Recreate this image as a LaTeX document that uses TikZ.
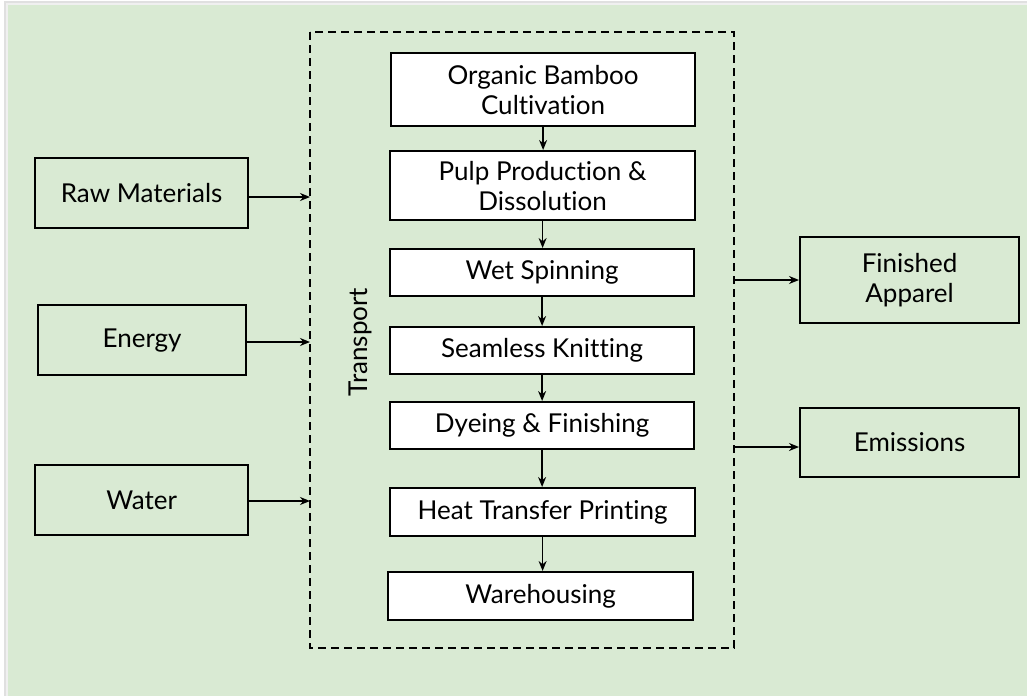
\documentclass[tikz,border=0pt]{standalone}
\usepackage{fontspec}
\setmainfont{Lato}[Ligatures={NoCommon}]
\usetikzlibrary{arrows.meta}
\definecolor{bggreen}{HTML}{D9EAD3}
\begin{document}
\begin{tikzpicture}[x=1pt,y=-1pt,
  font=\fontsize{26}{30}\selectfont,
  boxbase/.style={draw=black,line width=2.2pt,inner sep=0pt,align=center,anchor=north west},
  sidebox/.style={boxbase},
  procbox/.style={boxbase,fill=white},
  flow/.style={line width=1.6pt,-{Stealth[length=10pt,width=8pt]}},
  frame/.style={draw=black,line width=2pt,dash pattern=on 8pt off 5pt}]
\useasboundingbox (0,0) rectangle (1027,696);
\fill[white] (0,0) rectangle (1027,696);
\fill[black!12] (4,1) rectangle (1027,696);
\fill[black!6] (6,3) rectangle (1027,696);
\fill[bggreen] (8,5) rectangle (1027,696);
% dashed frame
\draw[frame] (310,32) rectangle (734,648);
\coordinate (fl1) at (310,197);
\coordinate (fl2) at (310,342);
\coordinate (fl3) at (310,501);
\coordinate (fr1) at (734,280);
\coordinate (fr2) at (734,447);
% left inputs
\node[sidebox,minimum width=213pt,minimum height=70pt] (raw) at (34,157) {Raw Materials};
\node[sidebox,minimum width=208pt,minimum height=70pt] (energy) at (37,304) {Energy};
\node[sidebox,minimum width=213pt,minimum height=70pt] (water) at (34,464) {Water};
% right outputs
\node[sidebox,minimum width=219pt,minimum height=86pt] (apparel) at (799,236) {Finished\\Apparel};
\node[sidebox,minimum width=219pt,minimum height=69pt] (emis) at (799,407) {Emissions};
% process chain
\node[procbox,minimum width=304pt,minimum height=73pt] (p1) at (390,52) {Organic Bamboo\\Cultivation};
\node[procbox,minimum width=305pt,minimum height=69pt] (p2) at (389,150) {Pulp Production \&\\Dissolution};
\node[procbox,minimum width=304pt,minimum height=47pt] (p3) at (389,248) {Wet Spinning};
\node[procbox,minimum width=304pt,minimum height=47pt] (p4) at (389,326) {Seamless Knitting};
\node[procbox,minimum width=304pt,minimum height=47pt] (p5) at (389,401) {Dyeing \& Finishing};
\node[procbox,minimum width=305pt,minimum height=48pt] (p6) at (389,487) {Heat Transfer Printing};
\node[procbox,minimum width=305pt,minimum height=48pt] (p7) at (387,571) {Warehousing};
\node[rotate=90] (transport) at (360,342) {Transport};
% arrows
\draw[flow] (raw.east |- fl1) -- (fl1);
\draw[flow] (energy.east |- fl2) -- (fl2);
\draw[flow] (water.east |- fl3) -- (fl3);
\draw[flow] (fr1) -- (fr1 -| apparel.west);
\draw[flow] (fr2) -- (fr2 -| emis.west);
\foreach \a/\b in {p1/p2,p2/p3,p3/p4,p4/p5,p5/p6,p6/p7}
  \draw[flow] (\a.south) -- (\a.south |- \b.north);
\end{tikzpicture}
\end{document}
